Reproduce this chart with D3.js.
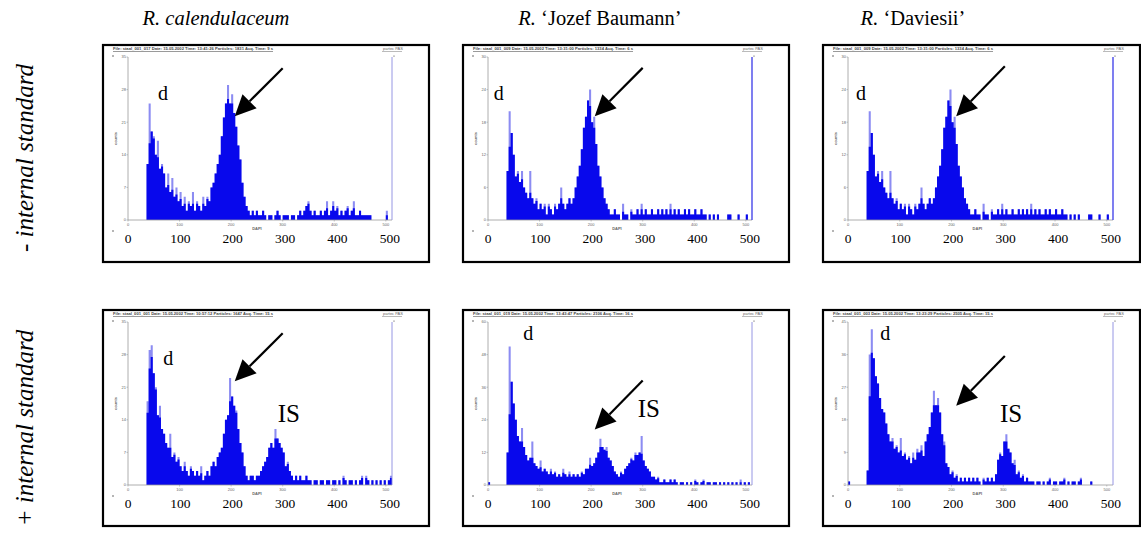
<!DOCTYPE html>
<html><head><meta charset="utf-8">
<script src="https://cdn.jsdelivr.net/npm/d3@7"></script>
<style>body{margin:0;background:#fff}svg{display:block}</style>
</head><body><svg id="chart" width="1141" height="533"></svg>
<script>
// ---------- data ----------
const columnTitles = [
  [{t:"R. calendulaceum", i:true}],
  [{t:"R.", i:true}, {t:" \u2018Jozef Baumann\u2019", i:false}],
  [{t:"R.", i:true}, {t:" \u2018Daviesii\u2019", i:false}]
];
const rowLabels = ["- internal standard", "+ internal standard"];
const binWidth = 4;               // channels per histogram bin, bins start at channel 0
const channelMax = 512;
const xTicks = [0, 100, 200, 300, 400, 500];
const headers = [
  "File: staal_001_017   Date: 15.05.2002   Time: 13:41:26    Particles: 1831    Acq. Time: 9 s",
  "File: staal_001_009   Date: 15.05.2002   Time: 13:31:00    Particles: 1334    Acq. Time: 6 s",
  "File: staal_001_009   Date: 15.05.2002   Time: 13:31:00    Particles: 1334    Acq. Time: 6 s",
  "File: staal_001_001   Date: 15.05.2002   Time: 10:57:12    Particles: 1647    Acq. Time: 15 s",
  "File: staal_001_019   Date: 15.05.2002   Time: 13:43:47    Particles: 2106    Acq. Time: 16 s",
  "File: staal_001_003   Date: 15.05.2002   Time: 13:23:29    Particles: 2505    Acq. Time: 15 s"
];
const yMax = [35, 30, 30, 35, 60, 45];
const overflowLine = [false, true, true, false, false, false];

// R. calendulaceum, - IS  (staal_001_017)
const countsCal = [
  0,0,0,0,0,0,0,0,0,
  12,25,19,18,14,17,11,12,10,7,
  10,6,9,5,7,4,6,3,5,2,
  4,3,6,2,4,3,2,5,3,5,
  4,7,8,10,12,14,18,22,25,29,
  25,27,23,20,16,13,8,5,3,2,
  1,2,1,2,1,1,2,1,0,1,
  1,0,1,2,1,0,1,1,1,0,
  1,1,0,1,2,1,2,3,4,2,
  1,2,1,1,2,1,2,4,1,2,
  4,2,3,1,2,1,2,3,1,2,
  4,1,1,2,1,1,1,1,1,0,
  0,0,0,0,0,0,2,0,0
];
// 'Jozef Baumann' / 'Daviesii', - IS  (staal_001_009)
const countsNoIS = [
  0,0,0,0,0,0,0,0,0,
  9,20,16,12,8,9,7,9,6,5,
  4,9,4,3,4,2,3,2,3,1,
  3,2,1,3,2,3,6,3,2,3,
  4,3,4,6,8,10,13,17,19,22,
  24,18,19,14,10,8,6,4,3,2,
  1,1,2,1,1,0,3,1,1,0,
  2,1,1,2,1,3,1,2,1,1,
  2,1,1,2,1,2,1,2,1,3,
  1,2,1,2,1,1,2,1,2,1,
  1,2,1,1,2,1,1,0,1,0,
  1,0,1,0,0,0,0,1,1,0,
  0,0,1,0,0,0,1,0,0
];
// R. calendulaceum, + IS  (staal_001_001)
const countsCalIS = [
  0,0,0,0,0,0,0,0,0,
  18,29,30,24,21,15,17,12,11,9,
  8,11,6,7,5,6,4,3,5,3,
  2,4,3,2,3,2,4,1,2,3,
  2,4,5,4,6,7,8,11,14,15,
  23,19,17,16,12,9,7,4,2,1,
  2,2,1,2,2,3,4,5,6,8,
  9,8,12,10,9,8,7,4,5,3,
  2,1,2,1,2,1,1,2,1,1,
  0,1,1,0,1,1,0,1,1,0,
  1,1,0,1,0,2,1,0,1,1,
  0,1,0,1,2,0,2,1,0,1,
  0,1,0,1,0,1,0,1,2
];
// 'Jozef Baumann', + IS  (staal_001_019)
const countsJBIS = [
  1,0,0,0,0,0,0,0,0,
  12,51,38,30,24,18,16,21,14,11,
  9,10,16,8,7,6,9,5,6,5,
  4,6,4,5,3,4,3,6,4,3,
  5,3,4,3,4,3,5,4,6,6,
  10,7,8,10,12,17,14,13,14,10,
  9,7,5,4,3,5,4,6,7,8,
  10,9,12,11,12,18,9,7,6,5,
  3,3,2,3,1,1,2,1,1,2,
  1,2,1,0,1,1,0,1,0,1,
  0,2,1,0,1,2,0,1,1,0,
  1,1,0,1,0,1,0,1,0,1,
  0,1,0,2,0,1,0,1,0
];
// 'Daviesii', + IS  (staal_001_003)
const countsDavIS = [
  1,0,0,0,0,0,0,0,0,
  4,36,43,35,30,28,24,21,20,17,
  14,12,13,10,11,9,13,8,9,7,
  8,6,9,7,10,9,11,8,12,14,
  16,20,26,22,24,20,14,12,6,5,
  3,4,2,3,1,2,1,2,1,2,
  1,2,1,2,1,0,2,1,2,1,
  2,1,3,7,9,8,12,14,10,9,
  6,7,3,4,2,3,1,2,1,1,
  1,0,1,1,0,1,0,1,2,0,
  1,1,0,1,1,2,0,1,0,1,
  1,0,1,2,0,0,0,0,1,0,
  0,0,0,0,0,0,0,0,0
];
const panelCounts = [countsCal, countsNoIS, countsNoIS, countsCalIS, countsJBIS, countsDavIS];

// annotations in data units [channel, count]
const arrows = [
  [[300, 32.6], [207, 22.3]],
  [[300, 28.0], [207, 19.1]],
  [[303, 28.3], [209, 19.1]],
  [[300, 32.6], [207, 22.3]],
  [[300, 38.5], [207, 20.4]],
  [[303, 35.6], [209, 21.9]]
];
const dLabels = [[68, 27.3], [21, 23.4], [25, 23.4], [78, 27.2], [78, 55.9], [72, 41.9]];
const isLabels = [null, null, null, [312, 15.3], [312, 28.1], [315, 19.7]];

// ---------- layout ----------
const svg = d3.select("#chart");
svg.append("rect").attr("width", 1141).attr("height", 533).attr("fill", "#fff");

const colX = [103, 463, 823], colW = [326, 326, 317];
const rowY = [45, 310], rowH = [217, 216];
const titleX = [216, 600, 913];
const serif = "'Liberation Serif','Times New Roman',serif";
const sans = "'Liberation Sans',Arial,sans-serif";

// column titles
columnTitles.forEach((parts, i) => {
  const t = svg.append("text").attr("x", titleX[i]).attr("y", 25)
    .attr("text-anchor", "middle").attr("font-family", serif).attr("font-size", 20.5);
  parts.forEach(p => t.append("tspan").text(p.t).attr("font-style", p.i ? "italic" : "normal"));
});
// row labels
const rowCenters = [158, 428];
rowLabels.forEach((lab, r) => {
  svg.append("text").attr("transform", `translate(33,${rowCenters[r]}) rotate(-90)`)
    .attr("text-anchor", "middle").attr("font-family", serif).attr("font-size", 25)
    .attr("font-style", "italic").text(lab);
});

panelCounts.forEach((counts, k) => {
  const r = Math.floor(k / 3), c = k % 3;
  const px = colX[c], py = rowY[r];
  const g = svg.append("g");
  const left = px + 25, top = py + 12, bottom = py + 175;
  const plotW = c === 2 ? 265 : 264;
  const x = d3.scaleLinear().domain([0, channelMax]).range([left, left + plotW]);
  const y = d3.scaleLinear().domain([0, yMax[k]]).range([bottom, top]);

  // frame box
  g.append("rect").attr("x", px).attr("y", py).attr("width", colW[c]).attr("height", rowH[r])
    .attr("fill", "none").attr("stroke", "#000").attr("stroke-width", 2.2);

  // header line
  g.append("text").attr("x", px + 10).attr("y", py + 5).attr("font-family", sans)
    .attr("font-size", 4.2).attr("font-weight", "bold").attr("fill", "#444")
    .attr("textLength", 160).attr("lengthAdjust", "spacingAndGlyphs").text(headers[k]);
  g.append("line").attr("x1", px + 10).attr("x2", px + 170).attr("y1", py + 6.5).attr("y2", py + 6.5)
    .attr("stroke", "#555").attr("stroke-width", 0.6);
  g.append("text").attr("x", left + plotW - 9).attr("y", py + 5).attr("font-family", sans)
    .attr("font-size", 4).attr("fill", "#666").text("partec PAS");
  g.append("line").attr("x1", left + plotW - 10).attr("x2", left + plotW + 10).attr("y1", py + 6.5).attr("y2", py + 6.5)
    .attr("stroke", "#777").attr("stroke-width", 0.5);
  // corner marks
  g.append("circle").attr("cx", px + 10).attr("cy", top - 1).attr("r", 0.7).attr("fill", "#333");
  g.append("circle").attr("cx", px + 10).attr("cy", bottom + 11).attr("r", 0.7).attr("fill", "#333");
  g.append("circle").attr("cx", left + plotW + 2).attr("cy", top - 1).attr("r", 0.6).attr("fill", "#333");

  // histogram as stepped areas (lighter protruding spikes behind a solid body)
  const bins = counts.map((v, i) => {
    const l = i > 0 ? counts[i - 1] : 0, rr = i < counts.length - 1 ? counts[i + 1] : 0;
    const body = Math.min(v, Math.max(1, (l + rr) / 2 + 1));
    return {c0: i * binWidth, v, body};
  });
  const last = bins[bins.length - 1];
  const pts = bins.concat([{c0: last.c0 + binWidth, v: last.v, body: last.body}]);
  const areaFull = d3.area().curve(d3.curveStepAfter).x(d => x(d.c0)).y0(y(0)).y1(d => y(d.v));
  const areaBody = d3.area().curve(d3.curveStepAfter).x(d => x(d.c0)).y0(y(0)).y1(d => y(d.body));
  g.append("path").attr("d", areaFull(pts)).attr("fill", "#8c8cf2");
  g.append("path").attr("d", areaBody(pts)).attr("fill", "#0808ec");

  // axes
  const axisCol = "#9a9a9a";
  g.append("line").attr("x1", left).attr("x2", left).attr("y1", top).attr("y2", bottom)
    .attr("stroke", axisCol).attr("stroke-width", 0.8);
  g.append("line").attr("x1", left).attr("x2", left + plotW).attr("y1", bottom).attr("y2", bottom)
    .attr("stroke", axisCol).attr("stroke-width", 0.8);
  g.append("line").attr("x1", left + plotW).attr("x2", left + plotW).attr("y1", top).attr("y2", bottom)
    .attr("stroke", overflowLine[k] ? "#3a3ae8" : "#8a8ae0").attr("stroke-width", overflowLine[k] ? 1.3 : 0.9);

  const yTicks = d3.range(0, 6).map(i => i * yMax[k] / 5);
  yTicks.forEach(t => {
    g.append("line").attr("x1", left - 1.5).attr("x2", left).attr("y1", y(t)).attr("y2", y(t))
      .attr("stroke", axisCol).attr("stroke-width", 0.6);
    g.append("text").attr("x", left - 2).attr("y", y(t) + 1.4).attr("text-anchor", "end")
      .attr("font-family", sans).attr("font-size", 4).attr("fill", "#666").text(t);
  });
  xTicks.forEach(t => {
    g.append("line").attr("x1", x(t)).attr("x2", x(t)).attr("y1", bottom).attr("y2", bottom + 1.5)
      .attr("stroke", axisCol).attr("stroke-width", 0.6);
    g.append("text").attr("x", x(t)).attr("y", bottom + 6).attr("text-anchor", "middle")
      .attr("font-family", sans).attr("font-size", 4).attr("fill", "#666").text(t);
  });
  g.append("text").attr("transform", `translate(${px + 14},${(top + bottom) / 2}) rotate(-90)`)
    .attr("text-anchor", "middle").attr("font-family", sans).attr("font-size", 4)
    .attr("font-weight", "bold").attr("fill", "#666").text("counts");
  g.append("text").attr("x", x(250)).attr("y", bottom + 10).attr("text-anchor", "middle")
    .attr("font-family", sans).attr("font-size", 4).attr("font-weight", "bold").attr("fill", "#666").text("DAPI");

  // large x labels
  const xl = d3.scaleLinear().domain([0, 500]).range([x(0), x(500) + 4]);
  xTicks.forEach(t => {
    g.append("text").attr("x", xl(t)).attr("y", bottom + 23).attr("text-anchor", "middle")
      .attr("font-family", serif).attr("font-size", 13.5).attr("fill", "#000").text(t);
  });

  // arrow
  const [s, e] = arrows[k];
  const x1 = x(s[0]), y1 = y(s[1]), x2 = x(e[0]), y2 = y(e[1]);
  const ang = Math.atan2(y2 - y1, x2 - x1);
  const hl = 21, hw = 10;
  const bx = x2 - hl * Math.cos(ang), by = y2 - hl * Math.sin(ang);
  g.append("line").attr("x1", x1).attr("y1", y1).attr("x2", bx).attr("y2", by)
    .attr("stroke", "#000").attr("stroke-width", 2.2);
  g.append("path").attr("d", `M${x2},${y2}L${bx + hw * Math.sin(ang)},${by - hw * Math.cos(ang)}L${bx - hw * Math.sin(ang)},${by + hw * Math.cos(ang)}Z`)
    .attr("fill", "#000");

  // labels
  const dl = dLabels[k];
  g.append("text").attr("x", x(dl[0])).attr("y", y(dl[1])).attr("dy", "0.35em").attr("text-anchor", "middle")
    .attr("font-family", serif).attr("font-size", 20).text("d");
  if (isLabels[k]) {
    const il = isLabels[k];
    g.append("text").attr("x", x(il[0])).attr("y", y(il[1])).attr("dy", "0.35em").attr("text-anchor", "middle")
      .attr("font-family", serif).attr("font-size", 25).text("IS");
  }
});
</script>
</body></html>
